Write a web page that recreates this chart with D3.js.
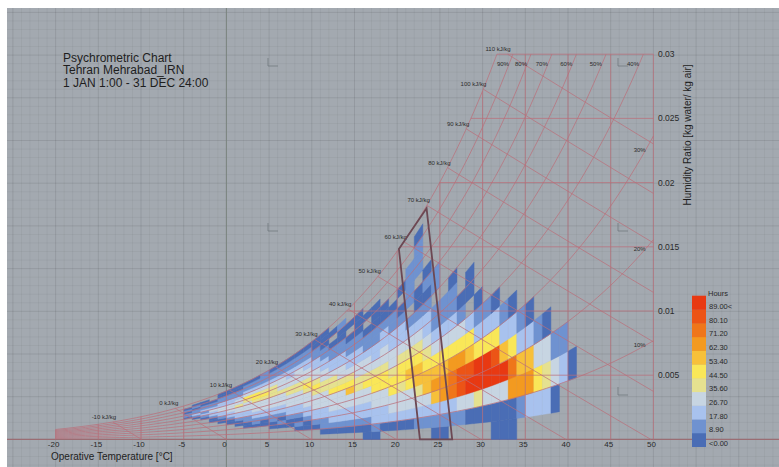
<!DOCTYPE html>
<html>
<head>
<meta charset="utf-8">
<script src="https://cdnjs.cloudflare.com/ajax/libs/d3/7.8.5/d3.min.js"></script>
<style>
  body { margin: 0; background: #ffffff; }
  svg text { font-family: "Liberation Sans", Arial, sans-serif; }
</style>
</head>
<body>
<div id="chart"></div>
<script>
  // ---- data ----
  var titleLines = ["Psychrometric Chart", "Tehran Mehrabad_IRN", "1 JAN 1:00 - 31 DEC 24:00"];
  var tempTicks = [-20, -15, -10, -5, 0, 5, 10, 15, 20, 25, 30, 35, 40, 45, 50];
  var ratioTicks = [0.005, 0.01, 0.015, 0.02, 0.025, 0.03];
  var ratioTickLabels = ["0.005", "0.01", "0.015", "0.02", "0.025", "0.03"];
  var rhCurves = [0.1, 0.2, 0.3, 0.4, 0.5, 0.6, 0.7, 0.8, 0.9, 1.0];
  var rhLabels = ["10%", "20%", "30%", "40%", "50%", "60%", "70%", "80%", "90%", ""];
  var enthalpyValues = [-10, 0, 10, 20, 30, 40, 50, 60, 70, 80, 90, 100, 110];
  var legendLabels = ["<0.00", "8.90", "17.80", "26.70", "35.60", "44.50", "53.40", "62.30", "71.20", "80.10", "89.00<"];
  var legendBreaks = [8.9, 17.8, 26.7, 35.6, 44.5, 53.4, 62.3, 71.2, 80.1, 89];
  var legendColors = ["#4a6db5", "#6f92d0", "#a8c2ee", "#c7d5e2", "#e5e190", "#f9e758",
                      "#f7c03a", "#f39a20", "#ef761a", "#ec5416", "#e83912"];
  // comfort polygon corners (temperature, humidity ratio)
  var comfortTemps = [22.66, 20.2, 23.44, 26.44];
  var comfortRatios = [0, 0.01483, 0.0180, 0];

  // hours per cell: one string per 1 degree column, one char per 5% RH bin (0-5% first)
  // char = legend band of the cell ('.' no hours), band -> estimated hours below
  var levelHours = [4, 13, 22, 31, 40, 49, 58, 67, 76, 85, 95];
  var tempBins = [-5, -4, -3, -2, -1, 0, 1, 2, 3, 4, 5, 6, 7, 8, 9, 10, 11, 12, 13, 14, 15, 16, 17, 18,
                  19, 20, 21, 22, 23, 24, 25, 26, 27, 28, 29, 30, 31, 32, 33, 34, 35, 36, 37, 38, 39, 40];
  var hourCodes = [
    "............011010..",
    "...........01211010.",
    "..........012121100.",
    "........0012232110..",
    ".......0012233221100",
    "......00122333221100",
    ".....001223343321100",
    "....0011223334532110",
    "....0112233345532110",
    "....0012233345432111",
    "...00112233344432110",
    "...01012233343332110",
    "...00122333443322110",
    "..010122333443332110",
    "..001223334543322110",
    "..012233345433221100",
    ".0112233344332211000",
    ".0122333544322110.0.",
    ".012233354332211001.",
    ".012233654322110.0..",
    ".01223344332211000..",
    "001223354332110.0...",
    "01223355432211000...",
    ".022335543322100....",
    ".02335543322110.....",
    ".0233455432210.0....",
    ".02335654321.1111...",
    ".1234665432100.1110.",
    ".12366543221010.....",
    "01267653211.11......",
    "01277653211.........",
    ".12887532110........",
    ".139975310..........",
    ".03a9652.00.........",
    ".04aa5210...........",
    ".03aa521............",
    "003a9520............",
    "003a621.............",
    "0078520.............",
    ".17621..............",
    ".27620..............",
    ".2531...............",
    ".2430...............",
    ".031................",
    "..21................",
    "..0................."
  ];

  // ---- psychrometrics (sea level) ----
  var P = 101.325;
  function pSat(t) { return 0.61094 * Math.exp(17.625 * t / (t + 243.04)); }
  function ratio(t, rh) { var pv = rh * pSat(t); return 0.622 * pv / (P - pv); }
  function enthalpy(t, w) { return 1.006 * t + w * (2501 + 1.86 * t); }
  function tempAt(rh, w) {
    var pv = w * P / (0.622 + w) / rh;
    var a = Math.log(pv / 0.61094);
    return 243.04 * a / (17.625 - a);
  }
  function satTempForEnthalpy(h) {
    var lo = -40, hi = 60;
    for (var i = 0; i < 60; i++) {
      var m = (lo + hi) / 2;
      if (enthalpy(m, ratio(m, 1)) > h) hi = m; else lo = m;
    }
    return (lo + hi) / 2;
  }

  var width = 779, height = 467;
  var wMax = 0.03, tMin = -20, tMax = 50;
  var x = d3.scaleLinear().domain([tMin, tMax]).range([55.6, 653.4]);
  var y = d3.scaleLinear().domain([0, wMax]).range([439.4, 54.2]);

  var svg = d3.select("#chart").append("svg")
    .attr("width", width)
    .attr("height", height);

  svg.append("rect").attr("width", width).attr("height", height).attr("fill", "#ffffff");
  svg.append("rect").attr("x", 7).attr("y", 8)
    .attr("width", width - 7).attr("height", height - 8).attr("fill", "#a3a9b0");

  // viewport grid, one line per degree, heavier every five
  var unit = x(1) - x(0);
  var gridV = d3.range(-26, 66), gridH = d3.range(-4, 53);
  var grid = svg.append("g");
  gridV.forEach(function(k) {
    var gxp = x(0) + k * unit;
    if (gxp < 7 || gxp > width) return;
    grid.append("line").attr("x1", gxp).attr("x2", gxp).attr("y1", 8).attr("y2", height)
      .attr("stroke", "#000").attr("stroke-opacity", k % 5 === 0 ? 0.09 : 0.04);
  });
  gridH.forEach(function(k) {
    var gyp = y(0) - k * unit;
    if (gyp < 8 || gyp > height) return;
    grid.append("line").attr("x1", 7).attr("x2", width).attr("y1", gyp).attr("y2", gyp)
      .attr("stroke", "#000").attr("stroke-opacity", k % 5 === 0 ? 0.09 : 0.04);
  });
  grid.append("line").attr("x1", x(0)).attr("x2", x(0)).attr("y1", 8).attr("y2", height)
    .attr("stroke", "#7b8680").attr("stroke-width", 1);
  grid.append("line").attr("x1", 7).attr("x2", width).attr("y1", y(0)).attr("y2", y(0))
    .attr("stroke", "#9a6d73").attr("stroke-width", 1.2);

  // small view markers
  [[268, 66], [618, 66], [268, 231], [618, 231], [618, 395]].forEach(function(p) {
    svg.append("path")
      .attr("d", "M" + p[0] + "," + (p[1] - 8) + "L" + p[0] + "," + p[1] + "L" + (p[0] + 10) + "," + p[1])
      .attr("fill", "none").attr("stroke", "#6c727a").attr("stroke-width", 0.7);
  });

  // title
  svg.append("g").selectAll("text").data(titleLines).enter().append("text")
    .attr("x", 63).attr("y", function(d, i) { return 61.5 + i * 12.6; })
    .attr("font-size", 12).attr("fill", "#1e1e1e").text(function(d) { return d; });

  // ---- heat map cells ----
  var color = d3.scaleThreshold().domain(legendBreaks).range(legendColors);
  var cells = [];
  hourCodes.forEach(function(row, c) {
    for (var i = 0; i < row.length; i++) {
      var ch = row[i];
      if (ch === ".") continue;
      var level = ch === "a" ? 10 : +ch;
      cells.push({ t: tempBins[c], r0: i * 0.05, r1: (i + 1) * 0.05, hours: levelHours[level] });
    }
  });
  svg.append("g").selectAll("path").data(cells).enter().append("path")
    .attr("d", function(d) {
      var pts = [[d.t, d.r0], [d.t + 1, d.r0], [d.t + 1, d.r1], [d.t, d.r1]];
      return "M" + pts.map(function(p) { return x(p[0]) + "," + y(ratio(p[0], p[1])); }).join("L") + "Z";
    })
    .attr("fill", function(d) { return color(d.hours); })
    .attr("stroke", function(d) { return color(d.hours); })
    .attr("stroke-width", 0.4);

  // ---- chart lines ----
  var lineColor = "#bb6e79";
  var lines = svg.append("g").attr("fill", "none").attr("stroke", lineColor)
    .attr("stroke-width", 0.85).attr("stroke-opacity", 0.85);
  var line = d3.line().x(function(d) { return x(d[0]); }).y(function(d) { return y(d[1]); });

  // relative humidity curves
  rhCurves.forEach(function(rh, k) {
    var tEnd = Math.min(tMax, tempAt(rh, wMax));
    var pts = d3.range(tMin, tEnd, 0.5).map(function(t) { return [t, ratio(t, rh)]; });
    pts.push([tEnd, ratio(tEnd, rh)]);
    lines.append("path").attr("d", line(pts));
    if (!rhLabels[k]) return;
    var lt, lw;
    if (tEnd < tMax) { lw = 0.0292; lt = tempAt(rh, lw); }
    else { lt = 49.1; lw = ratio(lt, rh); }
    svg.append("text").attr("x", x(lt)).attr("y", y(lw) + 2)
      .attr("text-anchor", "end").attr("font-size", 6).attr("fill", "#2c2c2c")
      .text(rhLabels[k]);
  });

  // enthalpy lines
  enthalpyValues.forEach(function(h) {
    var t0 = satTempForEnthalpy(h);
    if (ratio(t0, 1) > wMax) t0 = (h - wMax * 2501) / (1.006 + wMax * 1.86);
    var t1 = Math.min(tMax, h / 1.006);
    var pts = d3.range(0, 11).map(function(k) {
      var t = t0 + (t1 - t0) * k / 10;
      return [t, Math.max(0, (h - 1.006 * t) / (2501 + 1.86 * t))];
    });
    lines.append("path").attr("d", line(pts));
    svg.append("text").attr("x", x(pts[0][0]) + 3).attr("y", y(pts[0][1]) - 3)
      .attr("text-anchor", "end").attr("font-size", 6).attr("fill", "#2c2c2c")
      .text(h + " kJ/kg");
  });

  // dry bulb lines
  tempTicks.forEach(function(t) {
    lines.append("path").attr("d", line([[t, 0], [t, Math.min(wMax, ratio(t, 1))]]));
  });
  // humidity ratio lines
  ratioTicks.forEach(function(w) {
    lines.append("path").attr("d", line([[tempAt(1, w), w], [tMax, w]]));
  });

  // comfort polygon
  svg.append("path")
    .attr("d", line(comfortTemps.map(function(t, i) { return [t, comfortRatios[i]]; })) + "Z")
    .attr("fill", "none").attr("stroke", "#6c4853").attr("stroke-width", 1.8);

  // ---- axes ----
  svg.append("g").selectAll("text").data(tempTicks).enter().append("text")
    .attr("x", function(d) { return x(d) - 2; }).attr("y", 447)
    .attr("text-anchor", "middle").attr("font-size", 8).attr("fill", "#2a2a2a")
    .text(function(d) { return d; });
  svg.append("g").selectAll("text").data(ratioTicks).enter().append("text")
    .attr("x", 658).attr("y", function(d) { return y(d) + 3; })
    .attr("font-size", 8.5).attr("fill", "#2a2a2a")
    .text(function(d, i) { return ratioTickLabels[i]; });

  svg.append("text").attr("x", 51).attr("y", 460)
    .attr("font-size", 10).attr("fill", "#1e1e1e").text("Operative Temperature [\u00b0C]");
  svg.append("text").attr("transform", "translate(691,135) rotate(-90)")
    .attr("text-anchor", "middle").attr("font-size", 10).attr("fill", "#1e1e1e")
    .text("Humidity Ratio [kg water/ kg air]");

  // ---- legend ----
  var swH = (446.7 - 295.7) / legendColors.length;
  var legend = svg.append("g");
  legendColors.forEach(function(c, i) {
    var top = 446.7 - (i + 1) * swH;
    legend.append("rect").attr("x", 692).attr("y", top).attr("width", 14).attr("height", swH + 0.3)
      .attr("fill", c);
    legend.append("text").attr("x", 709).attr("y", top + swH - 0.5)
      .attr("font-size", 7.5).attr("fill", "#2a2a2a").text(legendLabels[i]);
  });
  legend.append("text").attr("x", 708).attr("y", 296).attr("font-size", 7.5)
    .attr("fill", "#2a2a2a").text("Hours");
</script>
</body>
</html>
